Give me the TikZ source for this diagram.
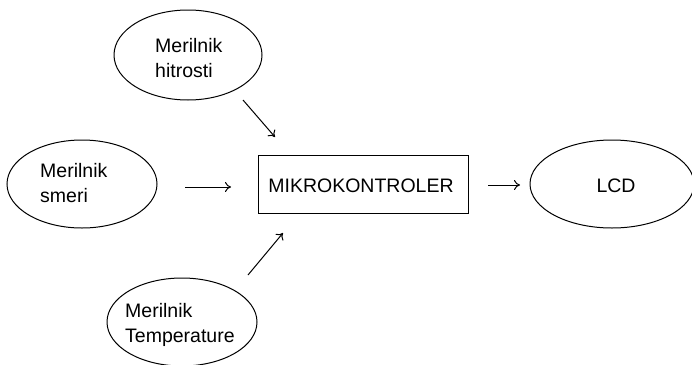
\documentclass[tikz,border=0pt]{standalone}
\usepackage{fontspec}
\setmainfont{Liberation Sans}
\usetikzlibrary{shapes.geometric,arrows.meta}
\begin{document}
\begin{tikzpicture}[x=1pt,y=-1pt,
  oval/.style={draw=black,line width=1pt,ellipse,inner sep=0pt},
  lbl/.style={anchor=base west,inner sep=0pt,font=\fontsize{19.5}{25}\selectfont,align=left},
  conn/.style={draw=black,line width=1pt,-{To[length=6pt,width=10pt]}}]
\useasboundingbox[fill=white] (0,0) rectangle (692,364);
% ellipses
\node[oval,minimum width=148pt,minimum height=90pt] (hit) at (188,55) {};
\node[oval,minimum width=150pt,minimum height=88pt] (smer) at (82,184) {};
\node[oval,minimum width=150pt,minimum height=88pt] (temp) at (182,322) {};
\node[oval,minimum width=164pt,minimum height=88pt] (lcd) at (612,184) {};
\node[draw=black,line width=1pt,minimum width=210pt,minimum height=58pt,inner sep=0pt] (mk) at (363,184) {};
% texts
\node[lbl] (thit) at (155,77) {Merilnik\\hitrosti};
\node[lbl] (tsmer) at (40,202) {Merilnik\\smeri};
\node[lbl] (ttemp) at (125,342) {Merilnik\\Temperature};
\node[lbl,anchor=base] (tlcd) at (616,192) {LCD};
\node[lbl,anchor=base] (tmk) at (361,192) {MIKROKONTROLER};
% arrows
\coordinate (a1s) at (243,100); \coordinate (a1e) at (275,137);
\coordinate (a2s) at (185,187); \coordinate (a2e) at (231,187);
\coordinate (a3s) at (248,275); \coordinate (a3e) at (283,233);
\coordinate (a4s) at (488,185); \coordinate (a4e) at (520,185);
\draw[conn] (a1s) -- (a1e);
\draw[conn] (a2s) -- (a2e);
\draw[conn] (a3s) -- (a3e);
\draw[conn] (a4s) -- (a4e);
\end{tikzpicture}
\end{document}
